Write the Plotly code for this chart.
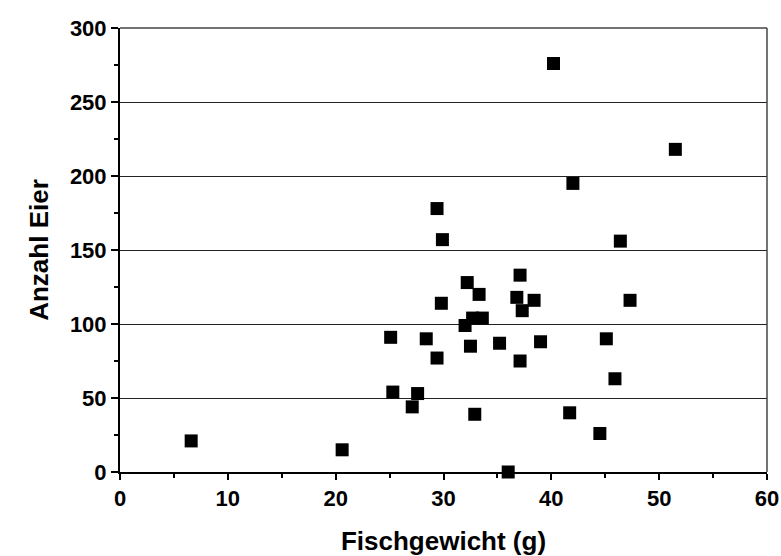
import plotly.graph_objects as go

fischgewicht = [6.6, 20.6, 25.1, 25.3, 27.1, 27.6, 28.4, 29.4, 29.4, 29.8, 29.9,
                32.0, 32.2, 32.5, 32.7, 32.9, 33.3, 33.6, 35.2, 36.0, 36.8, 37.1,
                37.1, 37.3, 38.4, 39.0, 40.2, 41.7, 42.0, 44.5, 45.1, 45.9, 46.4,
                47.3, 51.5]
anzahl_eier = [21, 15, 91, 54, 44, 53, 90, 77, 178, 114, 157,
               99, 128, 85, 104, 39, 120, 104, 87, 0, 118, 133,
               75, 109, 116, 88, 276, 40, 195, 26, 90, 63, 156,
               116, 218]

x_ticks = [0, 10, 20, 30, 40, 50, 60]
y_ticks = [0, 50, 100, 150, 200, 250, 300]

fig = go.Figure()
fig.add_trace(go.Scatter(
    x=fischgewicht, y=anzahl_eier, mode="markers",
    marker=dict(symbol="square", size=13, color="black", line=dict(width=0)),
    cliponaxis=False, showlegend=False,
))

font_family = "Liberation Sans, Arial, sans-serif"
fig.update_layout(
    width=781, height=556,
    margin=dict(l=120, r=14, t=28, b=84, autoexpand=False),
    paper_bgcolor="white", plot_bgcolor="white",
    font=dict(family=font_family, color="black"),
    xaxis=dict(
        range=[0, 60], tickvals=x_ticks, ticktext=["<b>%d</b>" % v for v in x_ticks],
        showgrid=False, zeroline=False,
        showline=True, linecolor="black", linewidth=2,
        ticks="outside", ticklen=6, tickwidth=1.5, tickcolor="black",
        minor=dict(dtick=5, ticks="outside", ticklen=4, tickwidth=1.5, tickcolor="black", showgrid=False),
        tickfont=dict(size=22, family=font_family, color="black"),
        title=dict(text="<b>Fischgewicht (g)</b>", font=dict(size=26, family=font_family), standoff=24),
        automargin=False,
    ),
    yaxis=dict(
        range=[0, 300], tickvals=y_ticks, ticktext=["<b>%d</b>" % v for v in y_ticks],
        showgrid=True, gridcolor="#222", gridwidth=1, zeroline=False,
        showline=True, linecolor="black", linewidth=2,
        ticks="outside", ticklen=7, tickwidth=1.5, tickcolor="black",
        minor=dict(dtick=25, ticks="outside", ticklen=4, tickwidth=1.5, tickcolor="black", showgrid=False),
        tickfont=dict(size=22, family=font_family, color="black"),
        title=dict(text="<b>Anzahl Eier</b>", font=dict(size=26, family=font_family), standoff=14),
        automargin=False,
    ),
    shapes=[
        dict(type="line", xref="paper", yref="paper", x0=1, x1=1, y0=0, y1=1,
             line=dict(color="#444", width=1.5)),
        dict(type="line", xref="paper", yref="paper", x0=0, x1=1, y0=1, y1=1,
             line=dict(color="#444", width=1.5)),
    ],
)

fig.write_html("out.html")
